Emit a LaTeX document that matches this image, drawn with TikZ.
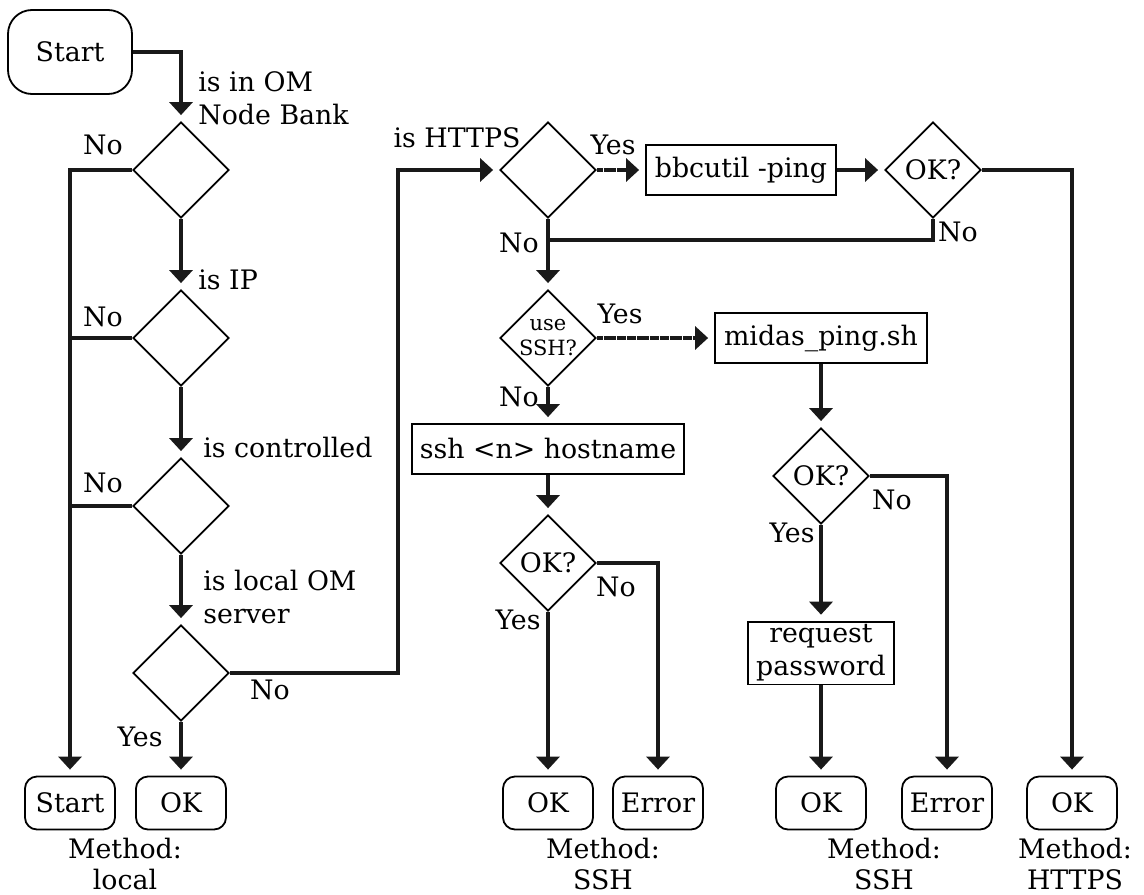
\documentclass[tikz,border=0pt]{standalone}
\usepackage{fontspec}
\setmainfont{DejaVu Serif}
\usepackage{tikz}
\usetikzlibrary{shapes.geometric, arrows.meta, positioning, calc}
\tikzset{
  termbox/.style={rounded corners=6pt, draw, line width=0.9pt, minimum width=45pt, minimum height=26.5pt, inner sep=1.5pt},
  beginbox/.style={termbox, rounded corners=12pt, minimum width=62pt, minimum height=42pt},
  procbox/.style={draw, line width=0.9pt, minimum height=25pt, inner xsep=2pt, inner ysep=1.5pt, align=center},
  decide/.style={diamond, draw, line width=0.9pt, minimum width=48pt, minimum height=48pt, inner sep=0pt, aspect=1, align=center},
  lbl/.style={inner sep=0pt, align=left},
  meth/.style={inner sep=0pt, align=center, font=\fontsize{13.4}{15.6}\selectfont},
  link/.style={line width=2.3pt, black!90},
  flow/.style={link, -{Triangle[length=6.5pt,width=11.5pt]}, shorten >=3pt},
  yesflow/.style={flow, dash pattern=on 1.5pt off 0.15pt},
}

\begin{document}
\begin{tikzpicture}[x=0.5pt, y=-0.5pt, every node/.style={font=\fontsize{13.4}{16.5}\selectfont}]
  \useasboundingbox (0,0) rectangle (1144,894);
  % local checks
  \node[beginbox] (start) at (70,52) {Start};
  \node[decide] (d1) at (181,170) {};
  \node[decide] (d2) at (181,338) {};
  \node[decide] (d3) at (181,506) {};
  \node[decide] (d4) at (181,673) {};
  \node[termbox] (st2) at (70,803) {Start};
  \node[termbox] (okl) at (181,803) {OK};
  \node[meth] (ml) at (125,864) {Method:\\local};
  \draw[flow] (start.east) -| (d1.north);
  \foreach \i/\j in {d1/d2,d2/d3,d3/d4,d4/okl} \draw[flow] (\i.south) -- (\j.north);
  \draw[flow] (d1.west) -| (st2.north);
  \foreach \d in {d2,d3} \draw[link] (\d.west) -- (\d.west -| st2);
  \node[lbl, anchor=west] at (198,98) {is in OM\\Node Bank};
  \node[lbl, anchor=west] at (198,280) {is IP};
  \node[lbl, anchor=west] at (203,448) {is controlled};
  \node[lbl, anchor=west] at (203,597) {is local OM\\server};
  \foreach \y in {145,317,483} \node[lbl] at (103,\y) {No};
  \node[lbl] at (270,690) {No};
  \node[lbl] at (140,737) {Yes};
  % https branch
  \coordinate (hop) at (398,170);
  \node[decide] (https) at (548,170) {};
  \node[procbox, minimum width=95pt] (ping) at (741,170) {bbcutil -ping};
  \node[decide] (ok1) at (933,170) {OK?};
  \node[termbox] (okh) at (1072,803) {OK};
  \node[meth] (mh) at (1075,864) {Method:\\HTTPS};
  \draw[flow] (d4.east) -| (hop) -- (https.west);
  \draw[yesflow] (https.east) -- (ping.west);
  \draw[flow] (ping.east) -- (ok1.west);
  \draw[flow] (ok1.east) -| (okh.north);
  \coordinate (back) at (548,240);
  \draw[link] (ok1.south) |- (back);
  \node[lbl] at (457,138) {is HTTPS};
  \node[lbl] at (613,145) {Yes};
  \node[lbl] at (519,243) {No};
  \node[lbl] at (958,232) {No};
  % ssh branch
  \node[decide, font=\fontsize{10.5}{12.5}\selectfont] (usessh) at (548,338) {use\\SSH?};
  \node[procbox, minimum width=106pt] (midas) at (821,338) {midas\_ping.sh};
  \node[procbox, minimum width=136pt] (sshc) at (548,449) {ssh <n> hostname};
  \node[decide] (ok2) at (548,563) {OK?};
  \node[decide] (ok3) at (821,476) {OK?};
  \node[procbox, minimum width=73pt] (req) at (821,653) {request\\password};
  \node[termbox] (oks1) at (548,803) {OK};
  \node[termbox] (err1) at (658,803) {Error};
  \node[termbox] (oks2) at (821,803) {OK};
  \node[termbox] (err2) at (947,803) {Error};
  \node[meth] (ms1) at (603,864) {Method:\\SSH};
  \node[meth] (ms2) at (884,864) {Method:\\SSH};
  \draw[flow] (https.south) -- (usessh.north);
  \draw[yesflow] (usessh.east) -- (midas.west);
  \foreach \i/\j in {usessh/sshc,sshc/ok2,ok2/oks1,midas/ok3,ok3/req,req/oks2} \draw[flow] (\i.south) -- (\j.north);
  \draw[flow] (ok2.east) -| (err1.north);
  \draw[flow] (ok3.east) -| (err2.north);
  \node[lbl] at (620,314) {Yes};
  \node[lbl] at (519,397) {No};
  \node[lbl] at (616,587) {No};
  \node[lbl] at (518,620) {Yes};
  \node[lbl] at (892,500) {No};
  \node[lbl] at (792,533) {Yes};
\end{tikzpicture}
\end{document}
